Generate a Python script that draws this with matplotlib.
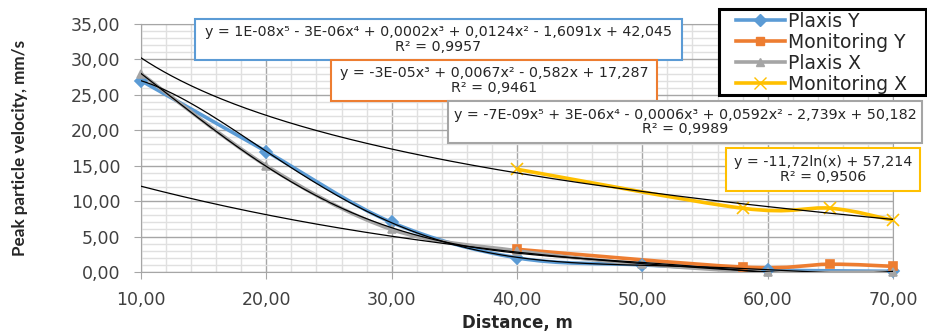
import numpy as np
import matplotlib
matplotlib.use('Agg')
import matplotlib.pyplot as plt
from matplotlib.path import Path
from matplotlib.patches import PathPatch, Rectangle
from matplotlib.lines import Line2D
from matplotlib.ticker import MultipleLocator, FuncFormatter

# Daten
plaxis_dist = [10, 20, 30, 40, 50, 60, 70]
plaxis_y = [27.0, 17.0, 7.0, 2.0, 1.0, 0.3, 0.1]
plaxis_x = [28.0, 15.0, 6.0, 3.0, 1.1, 0.0, 0.0]
monitoring_dist = [40, 58, 65, 70]
monitoring_y = [3.2, 0.7, 1.1, 0.8]
monitoring_x = [14.5, 9.0, 9.0, 7.3]

# Trendlinien-Koeffizienten wie im Diagramm angegeben
monitoring_y_poly = [-3e-05, 0.0067, -0.582, 17.287]
monitoring_x_log = [-11.72, 57.214]

labels = ['Plaxis Y', 'Monitoring Y', 'Plaxis X', 'Monitoring X']
colors = ['#5B9BD5', '#ED7D31', '#A5A5A5', '#FFC000']
markers = ['D', 's', '^', 'x']

eq_texts = [
    'y = 1E-08x⁵ - 3E-06x⁴ + 0,0002x³ + 0,0124x² - 1,6091x + 42,045\nR² = 0,9957',
    'y = -3E-05x³ + 0,0067x² - 0,582x + 17,287\nR² = 0,9461',
    'y = -7E-09x⁵ + 3E-06x⁴ - 0,0006x³ + 0,0592x² - 2,739x + 50,182\nR² = 0,9989',
    'y = -11,72ln(x) + 57,214\nR² = 0,9506',
]
# Boxen in Pixeln: links, oben, rechts, unten
eq_boxes = [(195, 19, 682, 60), (331, 60, 657, 101), (448, 101, 922, 143), (726, 148, 920, 191)]
eq_colors = ['#5B9BD5', '#ED7D31', '#A5A5A5', '#FFC000']

W, H = 928, 333


def smooth_path(x, y):
    '''Glatte Linie wie Excel (Catmull-Rom als Bezier)'''
    pts = np.column_stack([x, y]).astype(float)
    n = len(pts)
    verts = [pts[0]]
    codes = [Path.MOVETO]
    for i in range(n - 1):
        p0 = pts[i - 1] if i > 0 else pts[i]
        p1 = pts[i]
        p2 = pts[i + 1]
        p3 = pts[i + 2] if i + 2 < n else pts[i + 1]
        verts += [p1 + (p2 - p0) / 6, p2 - (p3 - p1) / 6, p2]
        codes += [Path.CURVE4] * 3
    return Path(verts, codes)


fig = plt.figure(figsize=(W / 100, H / 100), dpi=100)
ax = fig.add_axes([141 / W, 1 - 272 / H, (893 - 141) / W, (272 - 24) / H])

series = [(plaxis_dist, plaxis_y), (monitoring_dist, monitoring_y),
          (plaxis_dist, plaxis_x), (monitoring_dist, monitoring_x)]
for (xs, ys), c, m in zip(series, colors, markers):
    ax.add_patch(PathPatch(smooth_path(xs, ys), fill=False, edgecolor=c, lw=2.6, zorder=3))
    ax.plot(xs, ys, ls='none', marker=m, color=c, ms=6 if m != 'x' else 8,
            mew=1.2, zorder=4, clip_on=False)

# Trendlinien
xt = np.linspace(10, 70, 300)
for ys in (plaxis_y, plaxis_x):
    coef = np.polyfit(plaxis_dist, ys, 5)
    ax.plot(xt, np.polyval(coef, xt), color='black', lw=0.9, zorder=5)
ax.plot(xt, np.polyval(monitoring_y_poly, xt), color='black', lw=0.9, zorder=5)
ax.plot(xt, monitoring_x_log[0] * np.log(xt) + monitoring_x_log[1], color='black', lw=0.9, zorder=5)

ax.set_xlim(10, 70)
ax.set_ylim(0, 35)
ax.xaxis.set_major_locator(MultipleLocator(10))
ax.xaxis.set_minor_locator(MultipleLocator(2))
ax.yaxis.set_major_locator(MultipleLocator(5))
ax.yaxis.set_minor_locator(MultipleLocator(1))
fmt = FuncFormatter(lambda v, p: '{:.2f}'.format(v).replace('.', ','))
ax.xaxis.set_major_formatter(fmt)
ax.yaxis.set_major_formatter(fmt)
ax.grid(which='major', color='#A6A6A6', lw=1.0)
ax.grid(which='minor', color='#E0E0E0', lw=1.0)
ax.set_axisbelow(True)
ax.tick_params(which='major', direction='out', length=5, color='#A6A6A6',
               labelsize=12.5, labelcolor='#404040')
ax.tick_params(axis='y', pad=10)
ax.tick_params(axis='x', pad=9)
ax.tick_params(which='minor', length=0)
for s in ax.spines.values():
    s.set_color('#A6A6A6')

ax.set_xlabel('Distance, m', fontsize=12, fontweight='bold', color='#262626')
ax.xaxis.set_label_coords(0.5, -0.17)
ax.set_ylabel('Peak particle velocity, mm/s', fontsize=12.3, fontweight='bold',
              family=['Lato', 'DejaVu Sans'], color='#262626')
ax.yaxis.set_label_coords(-0.150, 0.5)

# Gleichungs-Boxen
for (l, t, r, b), txt, c in zip(eq_boxes, eq_texts, eq_colors):
    fig.add_artist(Rectangle((l / W, 1 - b / H), (r - l) / W, (b - t) / H,
                             transform=fig.transFigure, facecolor='white',
                             edgecolor=c, lw=1.5, zorder=6))
    fig.text((l + r) / 2 / W, 1 - (t + b) / 2 / H, txt, ha='center', va='center',
             fontsize=10.3, color='#262626', linespacing=1.05, zorder=7)

# Legende: Rahmen separat, damit er wie im Original sitzt
fig.add_artist(Rectangle((719 / W, 1 - 95 / H), (926 - 719) / W, (95 - 9) / H,
                         transform=fig.transFigure, facecolor='white',
                         edgecolor='black', lw=2.2, zorder=8))
handles = [Line2D([], [], color=c, lw=2.6, marker=m, ms=6 if m != 'x' else 8)
           for c, m in zip(colors, markers)]
leg = fig.legend(handles, labels, loc='upper left', bbox_to_anchor=(736 / W, 1 - 12 / H),
                 fontsize=13.5, frameon=False, borderpad=0.0,
                 labelspacing=0.1, handlelength=2.6, handletextpad=0.15,
                 borderaxespad=0)
leg.set_zorder(9)
for t in leg.get_texts():
    t.set_color('#262626')

fig.savefig('out.png', dpi=100)
